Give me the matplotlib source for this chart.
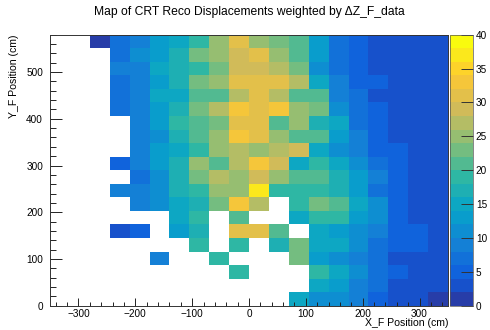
import numpy as np
import matplotlib
matplotlib.use("Agg")
import matplotlib.pyplot as plt
from matplotlib.colors import LinearSegmentedColormap, ListedColormap, BoundaryNorm
from matplotlib.ticker import MultipleLocator

plt.rcParams['font.family'] = ['Liberation Sans', 'DejaVu Sans']

# binning of the 2D histogram (20 x 20 bins)
x_edges = np.linspace(-350, 350, 21)
y_edges = np.linspace(0, 580, 21)

# bin contents, first row is the top of the plot (y = 551..580), 0 = empty bin
rows = [
    [0, 0, 1, 7, 9, 13, 15, 19, 25, 31, 25, 23, 21, 13, 7, 5, 3, 3, 3, 3],
    [0, 0, 0, 7, 11, 13, 17, 23, 25, 29, 31, 25, 21, 13, 7, 5, 3, 3, 3, 3],
    [0, 0, 0, 9, 9, 15, 17, 19, 23, 29, 29, 27, 23, 11, 7, 5, 3, 3, 3, 3],
    [0, 0, 0, 7, 9, 13, 17, 23, 25, 31, 31, 31, 27, 15, 9, 5, 5, 3, 3, 3],
    [0, 0, 0, 7, 9, 15, 15, 21, 21, 27, 31, 27, 21, 21, 9, 7, 3, 3, 3, 3],
    [0, 0, 0, 7, 9, 13, 17, 23, 27, 33, 31, 33, 25, 23, 11, 7, 5, 3, 3, 3],
    [0, 0, 0, 0, 9, 13, 19, 21, 23, 31, 31, 21, 25, 17, 15, 7, 5, 3, 3, 3],
    [0, 0, 0, 0, 9, 11, 17, 21, 25, 33, 31, 25, 21, 21, 13, 9, 5, 3, 3, 3],
    [0, 0, 0, 0, 9, 13, 15, 19, 25, 27, 25, 27, 29, 15, 11, 9, 5, 5, 3, 3],
    [0, 0, 0, 5, 9, 13, 17, 25, 21, 27, 33, 29, 15, 19, 15, 11, 7, 5, 3, 3],
    [0, 0, 0, 0, 7, 11, 17, 23, 27, 25, 29, 25, 21, 21, 17, 13, 9, 5, 3, 3],
    [0, 0, 0, 9, 9, 11, 17, 19, 25, 25, 37, 19, 19, 19, 17, 13, 7, 5, 3, 3],
    [0, 0, 0, 0, 9, 11, 15, 17, 23, 33, 27, 0, 19, 23, 21, 15, 11, 5, 3, 3],
    [0, 0, 0, 0, 0, 0, 15, 19, 0, 21, 0, 0, 15, 19, 19, 13, 11, 5, 3, 3],
    [0, 0, 0, 3, 5, 0, 13, 17, 0, 31, 31, 21, 0, 15, 13, 11, 9, 5, 5, 3],
    [0, 0, 0, 0, 0, 0, 0, 19, 0, 19, 0, 17, 23, 15, 15, 11, 7, 5, 5, 3],
    [0, 0, 0, 0, 0, 9, 0, 0, 19, 0, 0, 0, 23, 13, 11, 9, 7, 3, 3, 3],
    [0, 0, 0, 0, 0, 0, 0, 0, 0, 19, 0, 0, 0, 19, 15, 11, 7, 5, 3, 3],
    [0, 0, 0, 0, 0, 0, 0, 0, 0, 0, 0, 0, 0, 15, 13, 9, 7, 3, 3, 3],
    [0, 0, 0, 0, 0, 0, 0, 0, 0, 0, 0, 0, 15, 11, 11, 9, 5, 3, 3, 1],
]
z_levels = np.arange(0, 42, 2)

z = np.array(rows[::-1], dtype=float)
z[z == 0] = np.nan

# ROOT kBird palette, 20 contours
stops = [0.0, 0.125, 0.25, 0.375, 0.5, 0.625, 0.75, 0.875, 1.0]
red = [0.2082, 0.0592, 0.0780, 0.0232, 0.1802, 0.5301, 0.8186, 0.9956, 0.9764]
green = [0.1664, 0.3599, 0.5041, 0.6419, 0.7178, 0.7492, 0.7328, 0.7862, 0.9832]
blue = [0.5293, 0.8684, 0.8385, 0.7914, 0.6425, 0.4662, 0.3499, 0.1968, 0.0539]
bird = LinearSegmentedColormap.from_list(
    'bird', list(zip(stops, zip(red, green, blue))), N=255)
ncont = len(z_levels) - 1
colors = [bird(int((i + 0.99) * 255 / ncont)) for i in range(ncont)]
cmap = ListedColormap(colors)
norm = BoundaryNorm(z_levels, ncont)

fig = plt.figure(figsize=(4.9, 3.3), dpi=100)
ax = fig.add_axes([50 / 490, 24.3 / 330, 398 / 490, 271 / 330])
cax = fig.add_axes([449.5 / 490, 24.3 / 330, 23.5 / 490, 271 / 330])

mesh = ax.pcolormesh(x_edges, y_edges, z, cmap=cmap, norm=norm)
ax.set_xlim(x_edges[0], x_edges[-1])
ax.set_ylim(y_edges[0], y_edges[-1])

ax.xaxis.set_major_locator(MultipleLocator(100))
ax.xaxis.set_minor_locator(MultipleLocator(20))
ax.yaxis.set_major_locator(MultipleLocator(100))
ax.yaxis.set_minor_locator(MultipleLocator(20))
ax.tick_params(which='both', direction='in', top=False, right=False,
               labelsize=7.2, color='#222222', width=0.7)
ax.tick_params(axis='x', which='major', length=6, pad=2.5)
ax.tick_params(axis='x', which='minor', length=3)
ax.tick_params(axis='y', which='major', length=8.5, pad=5)
ax.tick_params(axis='y', which='minor', length=4.3)
for s in ax.spines.values():
    s.set_linewidth(0.7)
    s.set_color('#333333')

ax.set_xlabel('X_F Position (cm)', loc='right', fontsize=7.6, labelpad=-1)
ax.set_ylabel('Y_F Position (cm)', loc='top', fontsize=7.6, labelpad=5)

cb = fig.colorbar(mesh, cax=cax, ticks=range(0, 41, 5))
cb.outline.set_linewidth(0.5)
cb.outline.set_edgecolor('#555555')
cax.tick_params(direction='in', length=9, width=0.7, color='#333333',
                labelsize=7.2, pad=2)
cax.minorticks_off()

fig.text(249 / 490, 1 - 12 / 330,
         'Map of CRT Reco Displacements weighted by \u0394Z_F_data',
         ha='center', va='center', fontsize=8.7)

fig.savefig('out.png', dpi=100)
